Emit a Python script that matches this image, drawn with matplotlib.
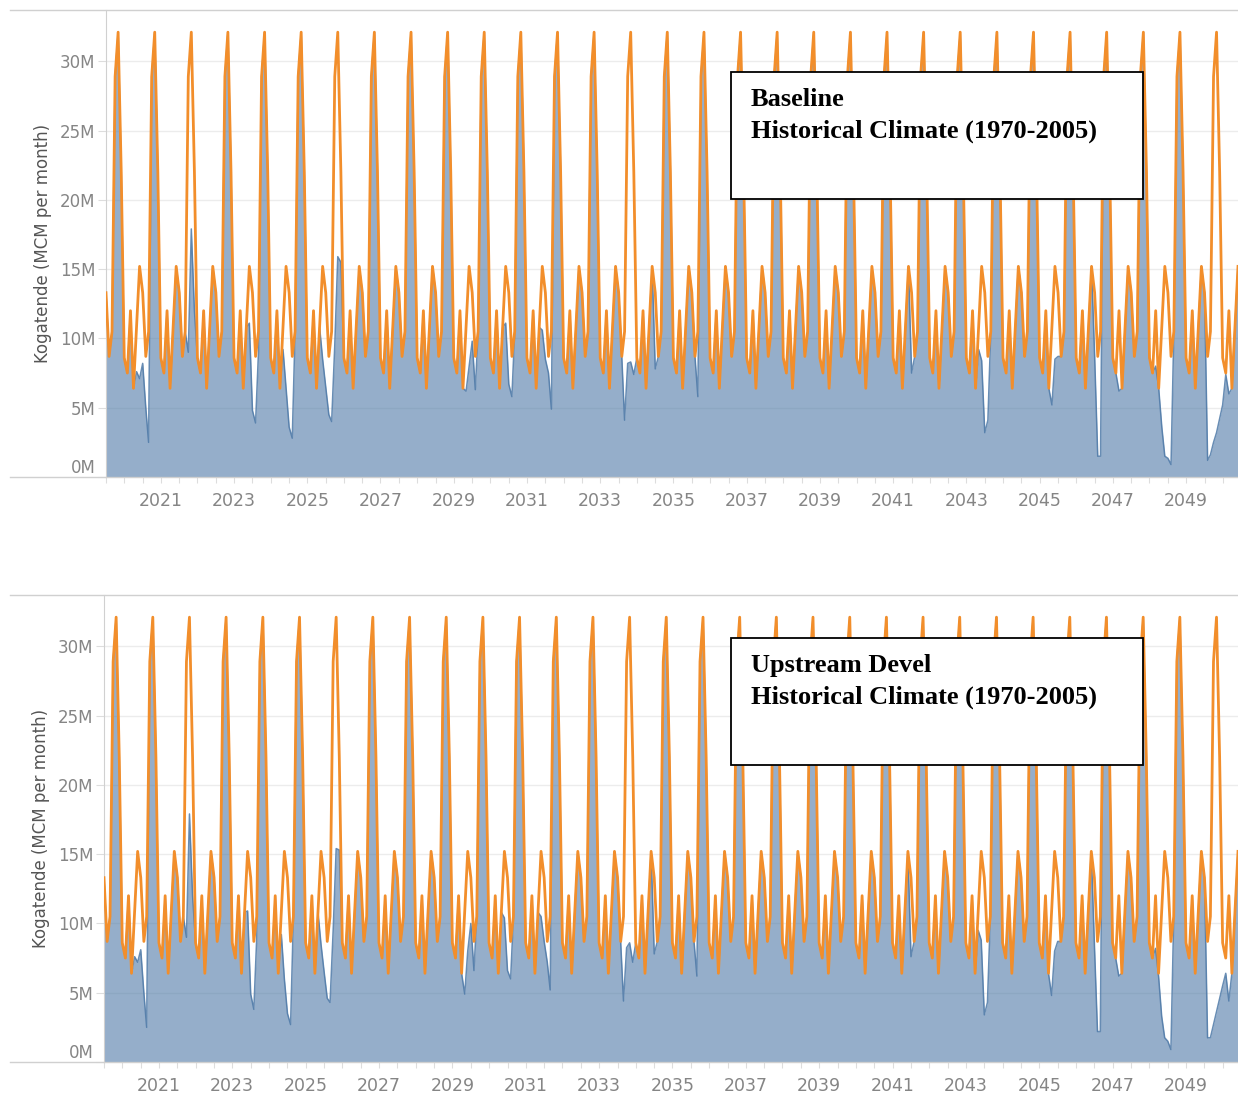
import numpy as np
import pandas as pd
import matplotlib
matplotlib.use('Agg')
import matplotlib.pyplot as plt
from matplotlib.lines import Line2D
from matplotlib.patches import Rectangle

# 月別の需要パターン (1月〜12月, 百万m3)
demand_pattern = [13.3, 8.7, 10.5, 28.9, 32.1, 22.0, 8.6, 7.5, 12.0, 6.4, 10.8, 15.2]
years = list(range(2020, 2051))

# 流量が需要を下回る月 (Baseline)
baseline_dry_months = ['2020-11', '2020-12', '2021-01', '2021-02', '2021-03',
                       '2022-04', '2022-05', '2022-06',
                       '2023-12', '2024-01', '2024-02', '2024-03',
                       '2024-11', '2024-12', '2025-01', '2025-02',
                       '2025-12', '2026-01', '2026-02', '2026-03', '2026-04', '2026-05', '2026-06',
                       '2029-11', '2029-12', '2030-01', '2030-02',
                       '2030-12', '2031-01', '2031-02',
                       '2031-12', '2032-01', '2032-02', '2032-03',
                       '2034-03', '2034-04', '2034-05', '2034-06',
                       '2035-01', '2036-03', '2042-01',
                       '2043-11', '2043-12', '2044-01', '2044-02',
                       '2045-11', '2045-12', '2046-01',
                       '2047-01', '2047-02', '2047-03', '2047-09',
                       '2048-09', '2048-11', '2048-12', '2049-01', '2049-02',
                       '2050-02', '2050-03', '2050-04', '2050-05', '2050-06', '2050-07', '2050-08', '2050-09']
baseline_dry_flow = [7.6, 7.1, 8.2, 5.0, 2.5,
                     9.0, 17.9, 12.0,
                     11.1, 4.8, 3.9, 9.0,
                     9.2, 6.4, 3.6, 2.8,
                     8.5, 6.5, 4.5, 4.0, 9.5, 15.9, 15.5,
                     6.2, 8.0, 9.8, 6.3,
                     11.1, 6.7, 5.8,
                     10.6, 8.5, 7.5, 4.9,
                     4.1, 8.2, 8.3, 7.4,
                     7.8, 5.8, 7.5,
                     9.2, 8.4, 3.2, 4.1,
                     5.2, 8.5, 8.7,
                     8.7, 1.5, 1.5, 6.2,
                     8.0, 3.6, 1.5, 1.35, 0.9,
                     1.2, 1.6, 2.5, 3.2, 4.2, 5.2, 7.4, 6.0]

# 流量が需要を下回る月 (Upstream Devel)
upstream_dry_months = ['2020-11', '2020-12', '2021-01', '2021-02', '2021-03',
                       '2022-04', '2022-05', '2022-06',
                       '2023-12', '2024-01', '2024-02', '2024-03',
                       '2024-11', '2024-12', '2025-01', '2025-02',
                       '2025-12', '2026-01', '2026-02', '2026-03', '2026-04', '2026-05', '2026-06',
                       '2029-11', '2029-12', '2030-01', '2030-02',
                       '2030-12', '2031-01', '2031-02',
                       '2031-12', '2032-01', '2032-02', '2032-03',
                       '2034-03', '2034-04', '2034-05', '2034-06',
                       '2035-01', '2036-03', '2042-01',
                       '2043-11', '2043-12', '2044-01', '2044-02',
                       '2045-11', '2045-12', '2046-01',
                       '2047-01', '2047-02', '2047-03', '2047-09',
                       '2048-09', '2048-10', '2048-11', '2048-12', '2049-01', '2049-02',
                       '2050-02', '2050-03', '2050-04', '2050-05', '2050-06', '2050-07', '2050-08', '2050-09']
upstream_dry_flow = [7.6, 7.2, 8.1, 5.0, 2.5,
                     9.0, 17.9, 12.0,
                     10.9, 4.9, 3.8, 9.0,
                     9.2, 6.0, 3.5, 2.7,
                     8.5, 6.5, 4.6, 4.3, 9.5, 15.4, 15.3,
                     4.9, 8.0, 10.0, 6.6,
                     10.4, 6.6, 6.0,
                     10.5, 8.7, 7.2, 5.2,
                     4.4, 8.25, 8.6, 7.2,
                     7.8, 6.2, 7.6,
                     9.5, 8.8, 3.4, 4.3,
                     4.8, 8.0, 8.7,
                     8.5, 2.2, 2.2, 6.2,
                     8.2, 6.2, 3.3, 1.75, 1.5, 0.9,
                     1.75, 1.75, 2.7, 3.6, 4.6, 5.5, 6.4, 4.4]

panel_titles = ['Baseline\nHistorical Climate (1970-2005)',
                'Upstream Devel\nHistorical Climate (1970-2005)']
y_ticks = [0, 5, 10, 15, 20, 25, 30]
label_years = list(range(2021, 2050, 2))

W, H = 1238, 1096
ORANGE = '#F28E2B'
BLUE = '#4E79A7'


def make_flow(dates, demand, months, values):
    flow = pd.Series(np.array(demand, dtype=float), index=dates, copy=True)
    flow[pd.to_datetime(months)] = values
    return flow.values


def draw_panel(fig, rect, dates, demand, flow, title, box_top):
    ax = fig.add_axes(rect)
    ax.fill_between(dates, 0, flow, color=BLUE, alpha=0.6, lw=0, zorder=2)
    ax.plot(dates, flow, color=BLUE, lw=1.1, alpha=0.85, zorder=3)
    ax.plot(dates, demand, color=ORANGE, lw=2.0, zorder=4)

    ax.set_xlim(dates[0], dates[-1])
    ax.set_ylim(0, 33.7)

    # 軸目盛
    ax.set_yticks(y_ticks)
    ax.set_yticklabels([f'{v}M' for v in y_ticks])
    ax.get_yticklabels()[0].set_va('bottom')
    ax.tick_params(axis='y', length=6, width=0.8, color='#dddddd', pad=1.5,
                   labelsize=12, labelcolor='#858585')
    ax.set_xticks([pd.Timestamp(f'{y}-07-01') for y in label_years])
    ax.set_xticklabels([str(y) for y in label_years])
    ax.set_xticks([pd.Timestamp(f'{y}-{m:02d}-01') for y in years for m in (1, 7)], minor=True)
    ax.tick_params(axis='x', which='both', length=4, width=0.8, color='#dddddd', pad=7,
                   labelsize=12.5, labelcolor='#858585')

    ax.grid(axis='y', color='#ececec', lw=1, zorder=0)
    ax.set_axisbelow(True)
    for s in ['top', 'right', 'bottom']:
        ax.spines[s].set_visible(False)
    ax.spines['left'].set_color('#d0d0d0')

    ax.set_ylabel('Kogatende (MCM per month)', fontsize=12, color='#555555', labelpad=6)

    # 上下の区切り線
    y0 = rect[1]
    y1 = rect[1] + rect[3]
    for yy in (y0, y1):
        fig.add_artist(Line2D([10 / W, 1], [yy, yy], transform=fig.transFigure,
                              color='#d0d0d0', lw=1))

    # タイトルボックス
    bx0, bx1 = 731 / W, 1143 / W
    by1 = 1 - box_top / H
    by0 = 1 - (box_top + 127) / H
    fig.add_artist(Rectangle((bx0, by0), bx1 - bx0, by1 - by0, transform=fig.transFigure,
                             facecolor='white', edgecolor='black', lw=1.3, zorder=10))
    first, second = title.split('\n')
    fig.text(751 / W, 1 - (box_top + 34) / H, first, fontsize=19, fontweight='bold',
             family='Liberation Serif', va='baseline', zorder=11)
    fig.text(751 / W, 1 - (box_top + 66) / H, second, fontsize=19, fontweight='bold',
             family='Liberation Serif', va='baseline', zorder=11)
    return ax


def main():
    dates = pd.date_range('2020-01-01', periods=len(years) * 12, freq='MS')
    demand = np.tile(demand_pattern, len(years))

    base_flow = make_flow(dates, demand, baseline_dry_months, baseline_dry_flow)
    up_flow = make_flow(dates, demand, upstream_dry_months, upstream_dry_flow)

    fig = plt.figure(figsize=(W / 100, H / 100), dpi=100)

    draw_panel(fig, [106 / W, 1 - 477 / H, 1132 / W, 467 / H],
               dates, demand, base_flow, panel_titles[0], 72)
    draw_panel(fig, [104 / W, 1 - 1062 / H, 1134 / W, 467 / H],
               dates, demand, up_flow, panel_titles[1], 638)

    fig.savefig('out.png', dpi=100)


if __name__ == '__main__':
    main()
